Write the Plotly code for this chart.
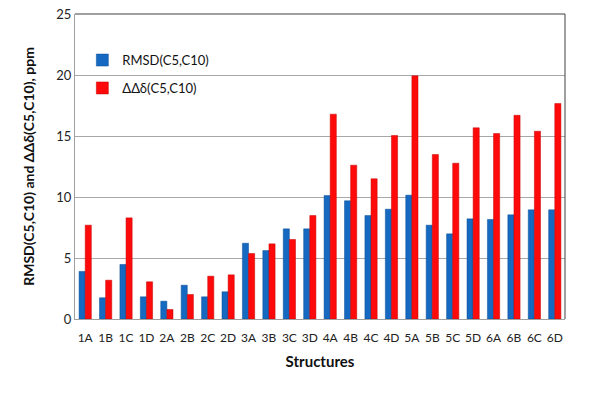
import plotly.graph_objects as go

categories = ["1A","1B","1C","1D","2A","2B","2C","2D","3A","3B","3C","3D",
              "4A","4B","4C","4D","5A","5B","5C","5D","6A","6B","6C","6D"]
rmsd = [3.9, 1.74, 4.47, 1.82, 1.46, 2.77, 1.82, 2.23, 6.21, 5.61, 7.39, 7.39,
        10.12, 9.69, 8.48, 9.0, 10.15, 7.69, 6.98, 8.21, 8.16, 8.54, 8.95, 8.95]
ddd = [7.69, 3.18, 8.29, 3.05, 0.78, 2.01, 3.51, 3.62, 5.37, 6.16, 6.52, 8.48,
       16.79, 12.61, 11.49, 15.04, 19.93, 13.48, 12.77, 15.67, 15.2, 16.7, 15.39, 17.66]
y_ticks = [0, 5, 10, 15, 20, 25]

font_family = "Lato, 'Open Sans', sans-serif"

fig = go.Figure()
fig.add_trace(go.Bar(x=categories, y=rmsd, name="RMSD(C5,C10)", legendgroup="a",
                     marker=dict(color="#1569C0", line=dict(color="#0B4F96", width=0.5))))
fig.add_trace(go.Bar(x=categories, y=ddd, name="ΔΔδ(C5,C10)", legendgroup="b",
                     marker=dict(color="#FF0A0A", line=dict(color="#C00000", width=0.5))))

fig.update_layout(
    width=600, height=394,
    margin=dict(l=75, r=35, t=14, b=74.5),
    paper_bgcolor="white", plot_bgcolor="white",
    barmode="group", bargap=0.4, bargroupgap=0.0,
    font=dict(family=font_family, size=12, color="#222"),
    legend=dict(x=0.015, y=0.898, xanchor="left", yanchor="top",
                bgcolor="rgba(0,0,0,0)", font=dict(size=13, color="#111"),
                tracegroupgap=8, itemwidth=30),
    xaxis=dict(title=dict(text="<b>Structures</b>", font=dict(size=15, color="#111"), standoff=12),
               showline=True, linecolor="#A0A0A0", linewidth=1, automargin=False,
               ticklabelstandoff=8,
               tickfont=dict(size=12, color="#222"), ticks=""),
    yaxis=dict(title=dict(text="<b>RMSD(C5,C10) and ΔΔδ(C5,C10), ppm</b>",
                          font=dict(size=14, color="#111"), standoff=18),
               range=[0, 25], tickvals=y_ticks, showgrid=True, gridcolor="#A8A8A8",
               gridwidth=1, showline=True, linecolor="#A0A0A0", linewidth=1,
               automargin=False,
               tickfont=dict(size=13, color="#222"), zeroline=False, ticks=""),
    shapes=[
        dict(type="line", xref="paper", yref="paper", x0=0, x1=1, y0=1, y1=1,
             line=dict(color="#404040", width=1)),
        dict(type="line", xref="paper", yref="paper", x0=1, x1=1, y0=0, y1=1,
             line=dict(color="#404040", width=1)),
    ],
)

fig.write_html("out.html", config={"displayModeBar": False},
               post_script="document.body.style.margin='0';")
